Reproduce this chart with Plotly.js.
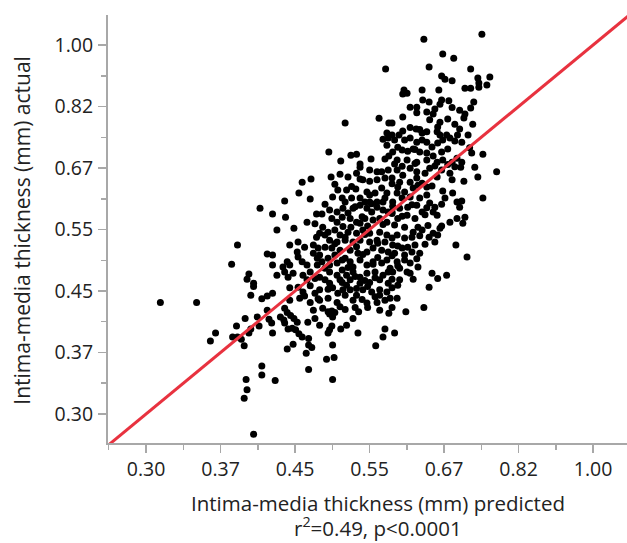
<!DOCTYPE html>
<html>
<head>
<meta charset="utf-8">
<script src="https://cdn.plot.ly/plotly-3.0.1.min.js"></script>
<style>html,body{margin:0;padding:0;background:#fff;}#chart{width:627px;height:543px;}</style>
</head>
<body>
<div id="chart"></div>
<script>
// Intima-media thickness (mm): predicted (x) vs actual (y)
const predicted = [
// left / low region
0.313,0.345,0.358,0.363,0.380,0.385,0.389,0.392,0.393,0.406,0.417,0.419,0.384,0.408,0.399,0.397,0.411,0.411,0.394,0.395,0.392,0.402,0.426,0.409,0.385,0.417,0.379,0.397,0.395,0.402,0.402,0.399,0.417,0.411,
// lower middle
0.437,0.440,0.472,0.484,0.491,0.496,0.500,0.493,0.497,0.528,0.533,0.525,0.516,0.508,0.496,0.493,0.491,0.480,0.474,0.465,0.432,0.436,0.437,0.444,0.448,0.452,0.446,0.450,0.454,0.458,0.441,0.423,0.422,0.466,0.470,0.466,0.447,0.440,0.463,0.497,0.499,0.489,0.466,0.497,0.532,0.558,0.569,0.572,0.578,0.583,0.605,0.635,0.587,
// upper middle
0.573,0.514,0.563,0.578,0.575,0.569,0.577,0.575,0.492,0.522,0.530,0.508,0.551,0.535,0.572,0.578,
// upper right
0.635,0.742,0.668,0.688,0.644,0.720,0.666,0.672,0.685,0.734,0.736,0.736,0.752,0.758,0.709,0.720,0.602,0.600,0.607,0.632,0.661,0.633,0.644,0.623,0.666,0.663,0.679,0.726,0.720,0.623,0.640,0.651,0.699,0.709,0.707,0.600,0.645,0.663,0.677,0.690,0.724,0.583,0.600,0.594,0.622,0.632,0.640,0.658,0.663,0.675,0.695,0.715,0.583,0.587,0.603,0.612,0.623,0.632,0.640,0.659,0.668,0.681,0.690,0.703,0.584,0.599,0.608,0.617,0.628,0.640,0.651,0.666,0.685,0.694,0.703,0.722,0.744,0.591,0.607,0.623,0.640,0.658,0.668,
// right middle
0.772,0.734,0.707,0.701,0.728,0.681,0.685,0.658,0.666,0.645,0.637,0.744,0.668,0.686,0.672,0.694,0.703,0.699,0.666,0.651,0.658,0.694,0.709,0.705,0.681,0.666,0.663,0.692,0.713,0.651,0.659,0.654,0.644,0.632,0.649,0.659,0.675,0.644,
0.612,0.623,0.600,0.591,0.583,0.595,0.612,0.623,0.632,0.640,0.617,0.603,0.591,0.584,0.599,0.612,0.628,0.640,0.645,0.623,0.608,0.595,0.583,0.592,0.607,0.620,0.632,0.640,0.587,0.603,0.617,0.591,0.603,0.615,0.584,0.599,0.608,0.620,0.587,0.603,0.615,0.628,0.591,0.603,0.612,0.595,0.607,0.584,0.612,0.595,0.592,0.591,0.617,
// dense core
0.535,0.549,0.560,0.567,0.577,0.495,0.507,0.518,0.530,0.535,0.539,0.549,0.560,0.572,0.469,0.458,0.454,0.468,0.437,0.504,0.516,0.529,0.510,0.514,0.523,0.545,0.549,0.557,0.567,0.575,0.572,0.535,0.542,0.549,0.560,0.569,0.497,
0.423,0.438,0.464,0.476,0.493,0.503,0.511,0.510,0.518,0.525,0.535,0.545,0.552,0.560,0.569,0.577,0.496,0.503,0.521,0.530,0.542,0.554,0.564,0.575,0.522,
0.428,0.448,0.484,0.480,0.476,0.491,0.500,0.507,0.518,0.530,0.539,0.549,0.564,0.575,0.493,0.503,0.514,0.525,0.535,0.549,0.560,0.572,
0.443,0.453,0.472,0.478,0.472,0.487,0.496,0.507,0.521,0.532,0.545,0.554,0.567,0.577,0.423,0.452,0.440,0.443,0.435,0.453,0.458,0.464,0.477,0.483,0.477,0.491,0.500,0.503,0.510,0.521,0.525,0.535,0.545,0.554,0.567,0.575,
0.423,0.428,0.437,0.441,0.447,0.459,0.468,0.474,0.464,0.487,0.493,0.503,0.510,0.516,0.525,0.535,0.545,0.557,0.569,0.577,0.487,0.493,0.510,0.521,0.535,0.549,0.564,0.577,
0.423,0.443,0.453,0.459,0.474,0.480,0.497,0.504,0.491,0.511,0.521,0.530,0.539,0.552,0.564,0.575,0.443,0.455,0.468,0.480,0.503,0.525,0.545,0.560,0.572,
// overlapping points filling the core
0.500,0.523,0.583,0.592,0.625,0.649,
0.487,0.528,0.552,0.584,0.615,0.654,
0.483,0.538,0.583,0.599,0.637,
0.474,0.511,0.535,0.546,0.569,0.625,0.642,
0.487,0.514,0.542,0.583,0.628,
0.500,0.530,0.561,0.592,0.637,0.461,
0.480,0.514,0.539,0.561,0.583,0.623,
0.493,0.518,0.554,0.580,0.592,0.625,
0.480,0.507,0.528,0.542,0.557,0.583,
0.468,0.491,0.516,0.530,0.546,0.564,0.583,
0.461,0.478,0.514,0.538,0.557,0.580,
0.507,0.514,0.546,0.564,
0.587,0.599,0.620,0.654,0.677,0.690,
0.592,0.620,0.649,0.677,0.718,
0.612,0.628,0.659,0.699,
0.612,0.654,0.685
];
const actual = [
0.433,0.433,0.382,0.392,0.387,0.387,0.384,0.376,0.411,0.413,0.422,0.410,0.401,0.401,0.397,0.392,0.352,0.342,0.337,0.326,0.317,0.282,0.336,0.588,0.522,0.507,0.490,0.475,0.467,0.461,0.456,0.443,0.442,0.438,
0.425,0.419,0.422,0.425,0.420,0.421,0.419,0.417,0.413,0.426,0.420,0.411,0.402,0.397,0.401,0.396,0.392,0.402,0.411,0.406,0.413,0.409,0.405,0.415,0.411,0.406,0.398,0.396,0.391,0.387,0.397,0.392,0.405,0.385,0.374,0.377,0.378,0.372,0.367,0.377,0.362,0.360,0.348,0.337,0.392,0.376,0.387,0.397,0.418,0.426,0.420,0.426,0.392,
0.925,0.776,0.788,0.776,0.751,0.736,0.739,0.722,0.706,0.699,0.701,0.686,0.690,0.679,0.690,0.697,
1.019,1.036,0.971,0.958,0.931,0.925,0.904,0.895,0.890,0.898,0.884,0.872,0.878,0.901,0.869,0.869,0.864,0.853,0.855,0.864,0.864,0.836,0.831,0.817,0.836,0.825,0.834,0.831,0.815,0.802,0.804,0.799,0.809,0.799,0.789,0.791,0.784,0.778,0.786,0.773,0.773,0.776,0.756,0.746,0.761,0.751,0.754,0.754,0.746,0.746,0.746,0.746,0.746,0.734,0.734,0.739,0.729,0.734,0.729,0.727,0.734,0.739,0.732,0.729,0.706,0.711,0.708,0.713,0.706,0.704,0.697,0.706,0.683,0.692,0.683,0.704,0.701,0.688,0.688,0.683,0.688,0.683,0.688,
0.662,0.651,0.642,0.672,0.672,0.659,0.645,0.651,0.666,0.670,0.659,0.608,0.622,0.618,0.608,0.600,0.602,0.590,0.596,0.581,0.575,0.569,0.571,0.560,0.562,0.555,0.551,0.522,0.502,0.542,0.539,0.527,0.535,0.548,0.476,0.468,0.473,0.455,
0.670,0.662,0.655,0.666,0.649,0.640,0.640,0.649,0.638,0.630,0.628,0.620,0.618,0.600,0.608,0.610,0.608,0.614,0.598,0.594,0.590,0.588,0.581,0.569,0.575,0.569,0.581,0.589,0.557,0.553,0.544,0.539,0.534,0.535,0.522,0.517,0.518,0.522,0.508,0.505,0.510,0.508,0.494,0.497,0.492,0.484,0.478,0.478,0.476,0.466,0.458,0.439,0.467,
0.672,0.666,0.662,0.662,0.666,0.651,0.657,0.651,0.659,0.647,0.645,0.642,0.645,0.649,0.647,0.640,0.618,0.606,0.602,0.624,0.624,0.626,0.608,0.600,0.608,0.620,0.614,0.618,0.628,0.618,0.608,0.608,0.600,0.600,0.600,0.600,0.610,
0.577,0.571,0.562,0.577,0.585,0.581,0.588,0.571,0.579,0.588,0.594,0.588,0.581,0.590,0.585,0.581,0.569,0.562,0.569,0.562,0.569,0.566,0.569,0.562,0.553,
0.548,0.551,0.553,0.542,0.535,0.544,0.548,0.539,0.544,0.542,0.548,0.542,0.544,0.539,0.530,0.527,0.530,0.527,0.530,0.527,0.530,0.527,
0.522,0.527,0.522,0.517,0.508,0.518,0.517,0.513,0.513,0.508,0.510,0.517,0.513,0.510,0.505,0.510,0.494,0.489,0.486,0.502,0.494,0.489,0.500,0.494,0.489,0.500,0.505,0.492,0.497,0.494,0.486,0.497,0.489,0.494,0.492,0.497,
0.489,0.473,0.478,0.470,0.476,0.473,0.478,0.468,0.466,0.484,0.478,0.473,0.481,0.473,0.478,0.470,0.476,0.478,0.473,0.478,0.466,0.461,0.462,0.466,0.461,0.462,0.466,0.461,
0.446,0.454,0.455,0.448,0.446,0.451,0.454,0.446,0.439,0.451,0.451,0.443,0.451,0.448,0.443,0.448,0.436,0.439,0.433,0.436,0.433,0.436,0.432,0.433,0.436,
0.636,0.631,0.637,0.630,0.634,0.632,
0.596,0.591,0.597,0.592,0.595,0.590,
0.577,0.572,0.578,0.573,0.576,
0.559,0.554,0.560,0.555,0.558,0.553,0.556,
0.539,0.535,0.540,0.534,0.538,
0.524,0.519,0.525,0.520,0.523,0.518,
0.505,0.500,0.506,0.501,0.504,0.499,
0.489,0.485,0.490,0.484,0.488,0.486,
0.470,0.466,0.471,0.465,0.469,0.467,
0.457,0.452,0.458,0.453,0.456,0.451,0.454,
0.442,0.438,0.443,0.437,0.441,0.439,
0.427,0.423,0.426,0.422,
0.679,0.674,0.680,0.675,0.678,0.673,
0.717,0.712,0.718,0.713,0.716,
0.765,0.760,0.766,0.761,
0.817,0.812,0.816
];
// identity reference line (predicted = actual)
const lineX = [0.25, 1.2];
const lineY = [0.25, 1.2];
// axis ticks: e^-1.2 ... e^0
const tickVals = [0.3012, 0.3679, 0.4493, 0.5488, 0.6703, 0.8187, 1.0];
const tickText = ['0.30','0.37','0.45','0.55','0.67','0.82','1.00'];
const minorVals = [0.2725, 0.3329, 0.4066, 0.4966, 0.6065, 0.7408, 0.9048, 1.1052];

const FONT = 'Open Sans, Noto Sans, sans-serif';
const axisCommon = {
  type: 'log', tickmode: 'array', tickvals: tickVals, ticktext: tickText,
  ticks: 'outside', ticklen: 8, tickwidth: 1.5, tickcolor: '#a8a8a8',
  showline: true, linecolor: '#a8a8a8', linewidth: 2,
  showgrid: false, zeroline: false,
  tickfont: {family: FONT, size: 19.5, color: '#222'},
  minor: {tickvals: minorVals, ticks: 'outside', ticklen: 5, tickwidth: 1.5, tickcolor: '#a8a8a8', showgrid: false}
};

const data = [
  {x: predicted, y: actual, type: 'scatter', mode: 'markers',
   marker: {color: '#000', size: 7}, hoverinfo: 'x+y'},
  {x: lineX, y: lineY, type: 'scatter', mode: 'lines',
   line: {color: '#e8323f', width: 3}}
];
const layout = {
  width: 627, height: 543,
  margin: {l: 108, r: 0, t: 15, b: 100},
  paper_bgcolor: '#fff', plot_bgcolor: '#fff',
  showlegend: false,
  xaxis: Object.assign({}, axisCommon, {range: [-0.5655, 0.0396]}),
  yaxis: Object.assign({}, axisCommon, {range: [-0.5621, 0.0424], ticklabelstandoff: 1}),
  annotations: [
    {text: 'Intima-media thickness (mm) predicted', xref: 'paper', yref: 'paper',
     x: 0.52, y: 0, yshift: -60, xanchor: 'center', yanchor: 'middle', showarrow: false,
     font: {family: FONT, size: 20.5, color: '#222'}},
    {text: 'r<sup>2</sup>=0.49, p&lt;0.0001', xref: 'paper', yref: 'paper',
     x: 0.52, y: 0, yshift: -84, xanchor: 'center', yanchor: 'middle', showarrow: false,
     font: {family: FONT, size: 20.5, color: '#222'}},
    {text: 'Intima-media thickness (mm) actual', xref: 'paper', yref: 'paper',
     x: 0, xshift: -86, y: 0.496, xanchor: 'center', yanchor: 'middle', textangle: -90, showarrow: false,
     font: {family: FONT, size: 21, color: '#222'}}
  ]
};
Plotly.newPlot('chart', data, layout, {displayModeBar: false, staticPlot: true});
</script>
</body>
</html>
